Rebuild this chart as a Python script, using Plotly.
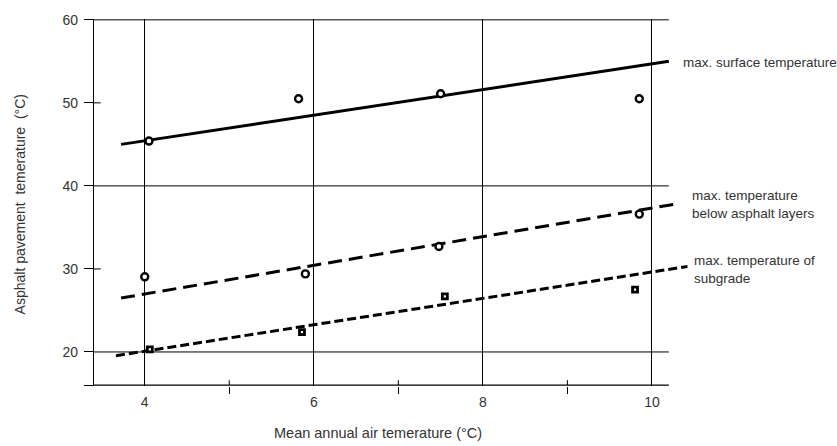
import plotly.graph_objects as go

# ---- data ----
surf_x = [4.05, 5.82, 7.5, 9.85]
surf_y = [45.4, 50.5, 51.1, 50.5]
below_x = [4.0, 5.9, 7.48, 9.85]
below_y = [29.05, 29.4, 32.7, 36.6]
subg_x = [4.06, 5.86, 7.55, 9.8]
subg_y = [20.3, 22.4, 26.7, 27.5]

surf_fit_x = [3.72, 10.2]
surf_fit_y = [45.0, 55.0]
below_fit_x = [3.72, 10.27]
below_fit_y = [26.5, 37.8]
subg_fit_x = [3.66, 10.42]
subg_fit_y = [19.55, 30.3]

x_ticks = [4, 6, 8, 10]
x_minor = [5, 7, 9]
y_ticks = [16, 20, 30, 40, 50, 60]
y_ticktext = ["", "20", "30", "40", "50", "60"]
y_grid = [20, 40, 60]
y_half = [30, 50]

labels = ["max. surface temperature",
          "max. temperature<br>below asphalt layers",
          "max. temperature of<br>subgrade"]

X_RANGE = [3.4, 10.45]
Y_RANGE = [15.9, 60.1]
X_END = 10.2

FONT = "Liberation Sans, Arial, sans-serif"
TXT = "#333333"

fig = go.Figure()

fig.add_trace(go.Scatter(x=surf_fit_x, y=surf_fit_y, mode="lines",
                         line=dict(color="black", width=3)))
fig.add_trace(go.Scatter(x=below_fit_x, y=below_fit_y, mode="lines",
                         line=dict(color="black", width=3, dash="14px,7px")))
fig.add_trace(go.Scatter(x=subg_fit_x, y=subg_fit_y, mode="lines",
                         line=dict(color="black", width=3, dash="9px,4px")))

circ = dict(symbol="circle", size=7, color="white",
            line=dict(color="black", width=2.4))
fig.add_trace(go.Scatter(x=surf_x, y=surf_y, mode="markers", marker=circ))
fig.add_trace(go.Scatter(x=below_x, y=below_y, mode="markers", marker=circ))
fig.add_trace(go.Scatter(x=subg_x, y=subg_y, mode="markers",
                         marker=dict(symbol="square", size=5, color="white",
                                     line=dict(color="black", width=2.8))))

shapes = []
# horizontal gridlines (end at x = X_END)
for yv in y_grid:
    shapes.append(dict(type="line", xref="x", yref="y", x0=X_RANGE[0], x1=X_END,
                       y0=yv, y1=yv, line=dict(color="black", width=1)))
# x axis line
shapes.append(dict(type="line", xref="x", yref="y", x0=X_RANGE[0], x1=X_END,
                   y0=16, y1=16, line=dict(color="black", width=1.3)))
# inner part of crossing ticks on y (30, 50)
for yv in y_half:
    shapes.append(dict(type="line", xref="x", yref="y", x0=X_RANGE[0], x1=3.48,
                       y0=yv, y1=yv, line=dict(color="black", width=1)))
# inner part of crossing minor x ticks
for xv in x_minor:
    shapes.append(dict(type="line", xref="x", yref="y", x0=xv, x1=xv,
                       y0=16, y1=16.6, line=dict(color="black", width=1)))

annotations = [
    dict(text=labels[0], xref="paper", yref="y", x=0.985, y=54.9,
         xanchor="left", yanchor="middle", align="left", showarrow=False,
         font=dict(family=FONT, size=13.5, color=TXT)),
    dict(text=labels[1], xref="paper", yref="y", x=1.0, y=37.8,
         xanchor="left", yanchor="middle", align="left", showarrow=False,
         font=dict(family=FONT, size=13.5, color=TXT)),
    dict(text=labels[2], xref="paper", yref="y", x=1.003, y=29.9,
         xanchor="left", yanchor="middle", align="left", showarrow=False,
         font=dict(family=FONT, size=13.5, color=TXT)),
    dict(text="Mean annual air temerature (°C)", xref="paper", yref="paper",
         x=0.4765, y=-0.129, xanchor="center", yanchor="middle", showarrow=False,
         font=dict(family=FONT, size=14.5, color=TXT)),
    dict(text="Asphalt pavement  temerature  (°C)", xref="paper", yref="paper",
         x=-0.124, y=0.495, xanchor="center", yanchor="middle", textangle=-90,
         showarrow=False, font=dict(family=FONT, size=14, color=TXT)),
]

fig.update_layout(
    width=837, height=446,
    margin=dict(l=94, r=147, t=14, b=60),
    paper_bgcolor="white", plot_bgcolor="white",
    showlegend=False,
    shapes=shapes, annotations=annotations,
    font=dict(family=FONT, size=14, color=TXT),
    xaxis=dict(range=X_RANGE, tickvals=x_ticks, ticktext=[str(v) for v in x_ticks],
               showgrid=True, gridcolor="black", gridwidth=1,
               showline=False, zeroline=False, ticks="",
               ticklabelstandoff=6,
               minor=dict(tickvals=x_minor, ticks="outside", ticklen=7,
                          tickcolor="black", tickwidth=1, showgrid=False)),
    yaxis=dict(range=Y_RANGE, tickvals=y_ticks, ticktext=y_ticktext,
               showgrid=False, showline=True, linecolor="black", linewidth=1.3,
               zeroline=False, ticks="outside", ticklen=9, tickcolor="black",
               tickwidth=1, ticklabelstandoff=3),
)

fig.write_html("out.html")
